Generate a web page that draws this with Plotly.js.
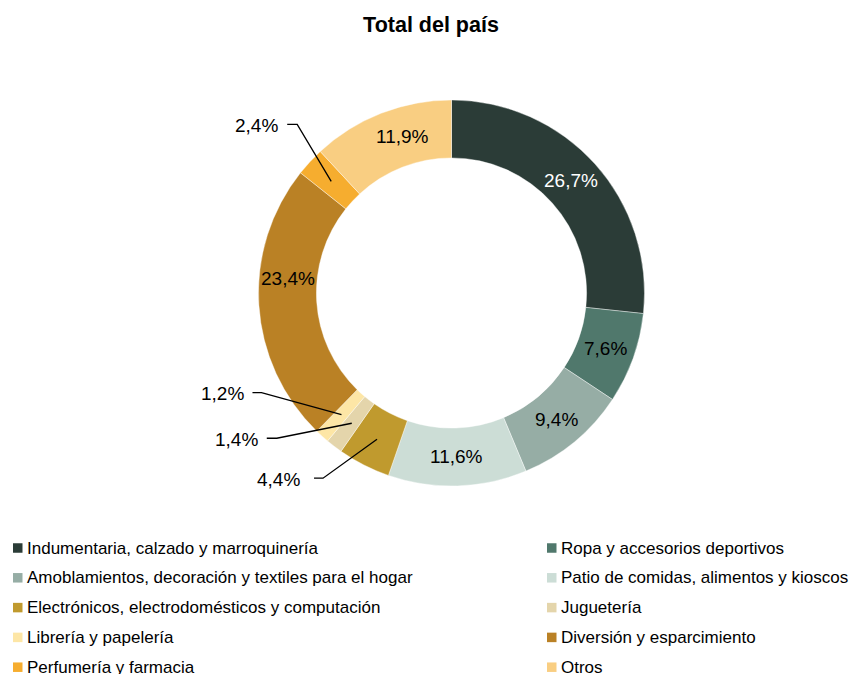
<!DOCTYPE html>
<html>
<head>
<meta charset="utf-8">
<script src="https://cdn.plot.ly/plotly-3.0.1.min.js"></script>
<style>html,body{margin:0;padding:0;background:#fff;}#chart{width:850px;height:674px;}</style>
</head>
<body>
<div id="chart"></div>
<script>
// ---- data ----
const categories = [
  "Indumentaria, calzado y marroquinería",
  "Ropa y accesorios deportivos",
  "Amoblamientos, decoración y textiles para el hogar",
  "Patio de comidas, alimentos y kioscos",
  "Electrónicos, electrodomésticos y computación",
  "Juguetería",
  "Librería y papelería",
  "Diversión y esparcimiento",
  "Perfumería y farmacia",
  "Otros"
];
const shares = [26.7, 7.6, 9.4, 11.6, 4.4, 1.4, 1.2, 23.4, 2.4, 11.9];
const colors = ["#2B3C37", "#50786C", "#96ADA5", "#CCDDD6", "#C09A2E",
                "#E4D5AB", "#FDE6A6", "#BA8125", "#F6AD2F", "#F9CE82"];
const outsideIdx = [4, 5, 6, 8];

// ---- styling / geometry ----
const W = 850, H = 674;
const cx = 451.5, cy = 293, R = 193, hole = 0.70;
const FONT = "Liberation Sans, Arial, Helvetica, sans-serif";
const LABEL_SIZE = 19;
// leader line styles for outside labels: elbow offset from anchor, horizontal length, text gap
const leader = {
  4: {dx: -54, dy: 39, len: 9, gap: 12},
  5: {dx: -75, dy: 15, len: 10, gap: 7},
  6: {dx: -80, dy: -22, len: 9, gap: 6},
  8: {dx: -34, dy: -57, len: 10, gap: 7}
};
// angular shift (degrees) of inside labels that sit off the slice middle
const angleShift = {0: -1.5, 7: 8.5, 9: 4};

const fmt = v => v.toFixed(1).replace('.', ',') + '%';
const px = x => x / W;
const py = y => 1 - y / H;
const textColors = shares.map((v, i) => i === 0 ? '#FFFFFF' : '#000000');

const total = shares.reduce((a, b) => a + b, 0);
const shapes = [];
const annotations = [];
let cum = 0;
const rMid = R * (1 + hole) / 2;
shares.forEach((v, i) => {
  const midFrac = (cum + v / 2) / total;
  cum += v;
  if (!outsideIdx.includes(i)) {
    const th2 = (midFrac * 360 + (angleShift[i] || 0)) * Math.PI / 180;
    annotations.push({
      xref: 'paper', yref: 'paper',
      x: px(cx + rMid * Math.sin(th2)), y: py(cy - rMid * Math.cos(th2)),
      xanchor: 'center', yanchor: 'middle', showarrow: false,
      text: fmt(v), font: {family: FONT, size: LABEL_SIZE, color: textColors[i]}
    });
    return;
  }
  const th = midFrac * 2 * Math.PI;
  const ax = cx + rMid * Math.sin(th);
  const ay = cy - rMid * Math.cos(th);
  const s = leader[i];
  const ex = ax + s.dx, ey = ay + s.dy;
  const hx = ex - s.len;
  shapes.push({
    type: 'path', xref: 'paper', yref: 'paper',
    path: `M ${px(ax)} ${py(ay)} L ${px(ex)} ${py(ey)} L ${px(hx)} ${py(ey)}`,
    line: {color: '#000', width: 1.3}
  });
  annotations.push({
    xref: 'paper', yref: 'paper', x: px(hx - s.gap), y: py(ey + 1),
    xanchor: 'right', yanchor: 'middle', showarrow: false,
    text: fmt(v), font: {family: FONT, size: LABEL_SIZE, color: '#000'}
  });
});

// custom two-column legend
const legX = [13, 547], legTextX = [25, 559], legY0 = 548, legDy = 29.8, sq = 9.5;
categories.forEach((c, i) => {
  const col = i % 2, row = Math.floor(i / 2);
  const y = legY0 + row * legDy;
  shapes.push({
    type: 'rect', xref: 'paper', yref: 'paper',
    x0: px(legX[col]), x1: px(legX[col] + sq),
    y0: py(y - sq / 2), y1: py(y + sq / 2),
    fillcolor: colors[i], line: {width: 0}
  });
  annotations.push({
    xref: 'paper', yref: 'paper', x: px(legTextX[col]), y: py(y),
    xanchor: 'left', yanchor: 'middle', showarrow: false,
    text: c, font: {family: FONT, size: 17, color: '#000'}
  });
});

const trace = {
  type: 'pie',
  labels: categories,
  values: shares,
  sort: false,
  direction: 'clockwise',
  rotation: 0,
  hole: hole,
  marker: {colors: colors, line: {color: '#FFFFFF', width: 0.4}},
  textinfo: 'none',
  domain: {x: [px(cx - R), px(cx + R)], y: [py(cy + R), py(cy - R)]},
  showlegend: false,
  hoverinfo: 'label+percent'
};

const layout = {
  width: W, height: H,
  margin: {l: 0, r: 0, t: 0, b: 0, autoexpand: false},
  paper_bgcolor: '#fff', plot_bgcolor: '#fff',
  title: {text: '<b>Total del país</b>', font: {family: FONT, size: 21.5, color: '#000'},
          x: 431 / W, xanchor: 'center', y: 1 - 24 / H, yanchor: 'middle', yref: 'container'},
  showlegend: false,
  shapes: shapes,
  annotations: annotations
};

Plotly.newPlot('chart', [trace], layout, {displayModeBar: false, staticPlot: true});
</script>
</body>
</html>
